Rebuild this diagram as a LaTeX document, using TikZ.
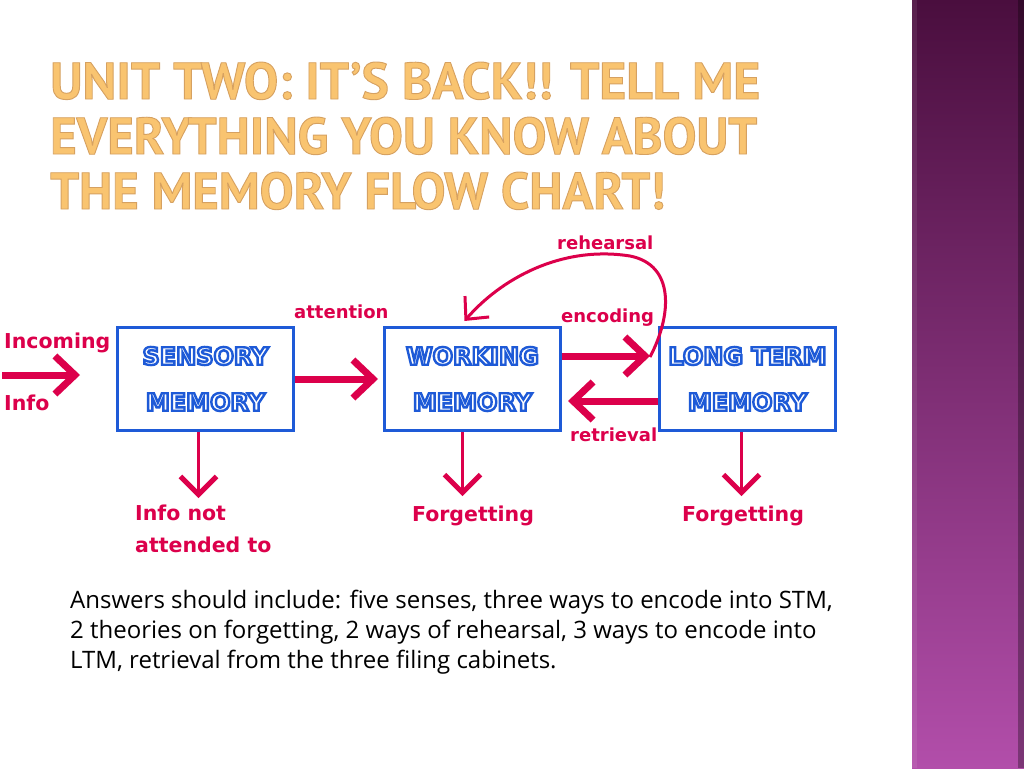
\documentclass[tikz,border=0pt]{standalone}
\usepackage{fontspec}
\setmainfont{PT Sans}
\newfontfamily\diagfont{DejaVu Sans}
\newfontfamily\bodyfont{Open Sans}
\usepackage{graphicx}
\usetikzlibrary{positioning,arrows.meta}

\definecolor{memred}{RGB}{220,0,75}
\definecolor{memblue}{RGB}{30,90,215}
\definecolor{titlefill}{RGB}{249,196,112}
\definecolor{bandtop}{RGB}{74,14,62}
\definecolor{bandmid}{RGB}{134,48,124}
\definecolor{bandbot}{RGB}{178,78,170}

% outlined letters: fill colour from \textcolor, stroke given as rgb numbers
\newcommand{\outlined}[3]{\special{pdf:literal direct #2 w 2 Tr #1 RG}#3\special{pdf:literal direct 0 Tr}}
\newcommand{\boxword}[1]{\textcolor{white}{\outlined{0.118 0.353 0.843}{2.4}{#1}}}
\newcommand{\titleline}[2]{\resizebox{#1}{37pt}{\fontsize{50}{50}\selectfont\bfseries\textcolor{titlefill}{\outlined{0.84 0.63 0.38}{0.9}{#2}}}}

\begin{document}
\begin{tikzpicture}[x=1pt,y=-1pt,->,>={Straight Barb[length=20pt,width=38pt]},
    mem box/.style={rectangle,draw=memblue,line width=3pt,minimum width=176pt,minimum height=103pt,align=center,font=\diagfont\bfseries\fontsize{24}{46}\selectfont},
    lbl/.style={text=memred,inner sep=0pt,font=\diagfont\bfseries\fontsize{18}{22}\selectfont},
    big lbl/.style={lbl,font=\diagfont\bfseries\fontsize{20.5}{32}\selectfont},
    fat arrow/.style={draw=memred,line width=7pt},
    drop arrow/.style={draw=memred,line width=3.5pt,-{Straight Barb[length=18pt,width=36pt,line width=5pt]}},
    loop arrow/.style={draw=memred,line width=3pt,-{Straight Barb[length=17pt,width=32pt]}}]

    \useasboundingbox (0,0) rectangle (1024,768);
    \fill[-,white] (0,0) rectangle (1024,768);

    % side band
    \shade[-,top color=bandtop,middle color=bandmid,bottom color=bandbot] (912,0) rectangle (1024,768);
    \fill[-,white,opacity=0.08] (912,0) rectangle (917,768);
    \fill[-,black,opacity=0.3] (1018,0) rectangle (1024,768);

    % title
    \node[anchor=base west,inner sep=0pt] (title1) at (50,99) {\titleline{710pt}{UNIT TWO: IT’S BACK!! TELL ME}};
    \node[anchor=base west,inner sep=0pt] (title2) at (50,154) {\titleline{707pt}{EVERYTHING YOU KNOW ABOUT}};
    \node[anchor=base west,inner sep=0pt] (title3) at (50,209) {\titleline{615pt}{THE MEMORY FLOW CHART!}};

    % stores
    \node[mem box] (sensory) at (205.5,379) {\boxword{SENSORY}\\\boxword{MEMORY}};
    \node[mem box, right=88pt of sensory] (working) {\boxword{WORKING}\\\boxword{MEMORY}};
    \node[mem box, right=96pt of working] (ltm) {\boxword{LONG TERM}\\\boxword{MEMORY}};

    \node[big lbl, anchor=base west] (incoming) at (4,348) {Incoming};
    \node[big lbl, anchor=base west] (info) at (4,410) {Info};
    \node[lbl, anchor=base west] (attention) at (294,318) {attention};
    \node[lbl, anchor=base west] (encoding) at (561,322) {encoding};
    \node[lbl, anchor=base west] (retrieval) at (570,441) {retrieval};
    \node[lbl, anchor=base west] (rehearsal) at (557,249) {rehearsal};

    \node[big lbl, anchor=north west, align=left] (unattended) at (135,505) {Info not\\attended to};
    \node[big lbl, anchor=base] (forget1) at (473,521) {Forgetting};
    \node[big lbl, anchor=base] (forget2) at (743,521) {Forgetting};

    \coordinate (in start) at (2,375);
    \coordinate (reh start) at (650,357);

    \draw[fat arrow, shorten >=36pt] (in start) -- (sensory.west |- in start);
    \draw[fat arrow, shorten >=5pt] (sensory.east) -- (working.west);
    \draw[fat arrow, shorten >=8pt] ([yshift=23pt]working.east) -- ([yshift=23pt]ltm.west);
    \draw[fat arrow, shorten >=6pt] ([yshift=-22pt]ltm.west) -- ([yshift=-22pt]working.east);

    \draw[loop arrow] (reh start) .. controls (672,315) and (675,265) .. (630,256)
        .. controls (560,245) and (500,280) .. ([xshift=-8pt,yshift=5pt]working.north);

    \draw[drop arrow, shorten >=7pt] ([xshift=-7pt]sensory.south) -- ([xshift=-7pt]sensory.south |- unattended.north);
    \draw[drop arrow, shorten >=9pt] ([xshift=-10pt]working.south) -- ([xshift=-10pt]working.south |- forget1.north);
    \draw[drop arrow, shorten >=9pt] ([xshift=-6pt]ltm.south) -- ([xshift=-6pt]ltm.south |- forget2.north);

    % answers
    \node[anchor=north west, align=left, inner sep=0pt, font=\bodyfont\fontsize{24}{30}\selectfont] (answers) at (70,590)
        {Answers should include: five senses, three ways to encode into STM,\\
         2 theories on forgetting, 2 ways of rehearsal, 3 ways to encode into\\
         LTM, retrieval from the three filing cabinets.};
\end{tikzpicture}
\end{document}
